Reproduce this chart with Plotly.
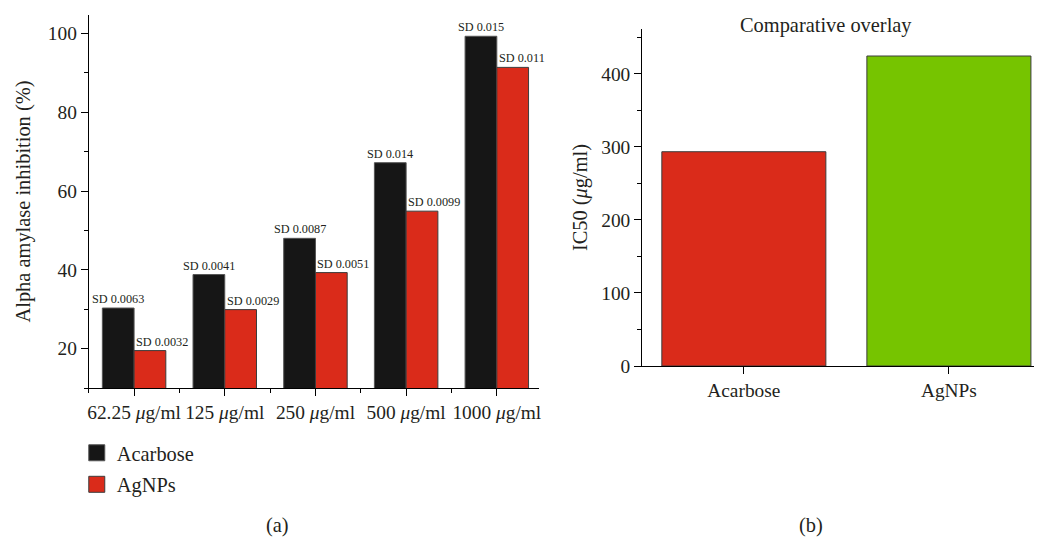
import plotly.graph_objects as go

# ---- data ----
concentrations = ["62.25 <i>μ</i>g/ml", "125 <i>μ</i>g/ml", "250 <i>μ</i>g/ml", "500 <i>μ</i>g/ml", "1000 <i>μ</i>g/ml"]
acarbose_inhibition = [30.3, 38.8, 48.0, 67.2, 99.3]
agnps_inhibition = [19.5, 29.9, 39.3, 54.9, 91.4]
acarbose_sd = ["SD 0.0063", "SD 0.0041", "SD 0.0087", "SD 0.014", "SD 0.015"]
agnps_sd = ["SD 0.0032", "SD 0.0029", "SD 0.0051", "SD 0.0099", "SD 0.011"]

ic50_samples = ["Acarbose", "AgNPs"]
ic50_values = [293.5, 424.6]

# ---- style ----
FONT = "Liberation Serif"
TXT = "#231f20"
BLACK = "#161616"
RED = "#da2b1a"
GREEN = "#76c400"
EDGE = "#3c3c3c"

W, H = 1037, 537          # reference pixel grid used for positioning
FIG_H = 548               # page height that fills the captured window
S = FIG_H / H             # size compensation

def px_x(p):
    return p / W
def px_y(p):
    return 1 - p / H

xi = list(range(len(concentrations)))

fig = go.Figure()

fig.add_trace(go.Bar(x=xi, y=acarbose_inhibition, name="Acarbose", marker=dict(color=BLACK, line=dict(color="#555555", width=1)),
                     showlegend=False, xaxis="x", yaxis="y"))
fig.add_trace(go.Bar(x=xi, y=agnps_inhibition, name="AgNPs", marker=dict(color=RED, line=dict(color=EDGE, width=1)),
                     showlegend=False, xaxis="x", yaxis="y"))

fig.add_trace(go.Scatter(x=[None], y=[None], mode="markers", name="Acarbose", legendgroup="a",
                         marker=dict(symbol="square", size=16, color=BLACK, line=dict(color="#555555", width=1)),
                         xaxis="x", yaxis="y"))
fig.add_trace(go.Scatter(x=[None], y=[None], mode="markers", name="AgNPs", legendgroup="b",
                         marker=dict(symbol="square", size=16, color=RED, line=dict(color=EDGE, width=1)),
                         xaxis="x", yaxis="y"))

fig.add_trace(go.Bar(x=list(range(len(ic50_samples))), y=ic50_values, marker=dict(color=[RED, GREEN], line=dict(color=EDGE, width=1)),
                     showlegend=False, xaxis="x2", yaxis="y2", width=0.8))

bar_w = 0.35
annotations = []
for i, (v, t) in enumerate(zip(acarbose_inhibition, acarbose_sd)):
    annotations.append(dict(x=i - bar_w / 2, y=v, xref="x", yref="y", text=t, showarrow=False,
                            xanchor="center", yanchor="bottom", font=dict(family=FONT, size=12 * S, color=TXT)))
for i, (v, t) in enumerate(zip(agnps_inhibition, agnps_sd)):
    annotations.append(dict(x=i, y=v, xref="x", yref="y", text=t, showarrow=False,
                            xanchor="left", yanchor="bottom", font=dict(family=FONT, size=12 * S, color=TXT)))

annotations += [
    dict(x=px_x(827), y=px_y(26), xref="paper", yref="paper", text="Comparative overlay", showarrow=False,
         xanchor="center", yanchor="middle", font=dict(family=FONT, size=20 * S, color=TXT)),
    dict(x=px_x(277), y=px_y(525), xref="paper", yref="paper", text="(a)", showarrow=False,
         xanchor="center", yanchor="middle", font=dict(family=FONT, size=20 * S, color=TXT)),
    dict(x=px_x(812), y=px_y(525), xref="paper", yref="paper", text="(b)", showarrow=False,
         xanchor="center", yanchor="middle", font=dict(family=FONT, size=20 * S, color=TXT)),
]

axis_common = dict(showline=True, linecolor="black", linewidth=1, ticks="outside", ticklen=7, tickcolor="black",
                   tickfont=dict(family=FONT, size=19 * S, color=TXT), showgrid=False, zeroline=False, mirror=False)

fig.update_layout(
    width=W, height=FIG_H, margin=dict(l=0, r=0, t=0, b=0),
    paper_bgcolor="white", plot_bgcolor="white",
    barmode="group", bargap=0.3, bargroupgap=0,
    font=dict(family=FONT, color=TXT),
    xaxis=dict(domain=[px_x(88), px_x(540)], range=[-0.5, 4.47], tickmode="array", tickvals=xi, ticktext=concentrations,
               minor=dict(ticks="outside", ticklen=4, tick0=0.5, dtick=1, tickcolor="black"),
               anchor="y", **axis_common),
    yaxis=dict(domain=[px_y(388), px_y(15)], range=[10, 104.7], tick0=0, dtick=20,
               minor=dict(ticks="outside", ticklen=4, tick0=0, dtick=10, tickcolor="black"),
               title=dict(text="Alpha amylase inhibition (%)", font=dict(family=FONT, size=20 * S, color=TXT), standoff=11),
               anchor="x", **axis_common),
    xaxis2=dict(domain=[px_x(643), px_x(1036)], range=[-0.496, 1.415], tickmode="array",
                tickvals=list(range(len(ic50_samples))), ticktext=ic50_samples, anchor="y2", **axis_common),
    yaxis2=dict(domain=[px_y(366), px_y(29)], range=[0, 461.6], tick0=0, dtick=100,
                minor=dict(ticks="outside", ticklen=4, tick0=0, dtick=50, tickcolor="black"),
                title=dict(text="IC50 (<i>μ</i>g/ml)", font=dict(family=FONT, size=20 * S, color=TXT), standoff=8),
                anchor="x2", **axis_common),
    legend=dict(x=px_x(76), y=px_y(433), xanchor="left", yanchor="top", bgcolor="rgba(0,0,0,0)",
                font=dict(family=FONT, size=20 * S, color=TXT), itemsizing="trace", tracegroupgap=2),
    annotations=annotations,
)

fig.write_html("out.html", config={"displayModeBar": False},
               post_script="var gd=document.getElementById('{plot_id}');"
                           "document.body.style.margin='0';document.body.style.overflow='hidden';"
                           "gd.style.position='fixed';gd.style.left='0px';gd.style.top='0px';")
